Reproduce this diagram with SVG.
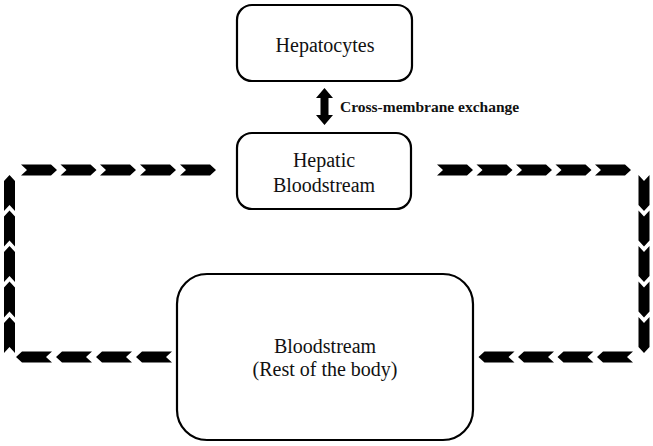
<svg xmlns="http://www.w3.org/2000/svg" xmlns:xlink="http://www.w3.org/1999/xlink" width="653" height="446" viewBox="0 0 653 446">
<style>
.box{fill:#fff;stroke:#000;stroke-width:2.2}
.t{font-family:"Liberation Serif","Times New Roman",serif;font-size:20px;fill:#111;text-anchor:middle}
.lbl{font-family:"Liberation Serif","Times New Roman",serif;font-size:15.5px;font-weight:bold;fill:#111}
.chev{fill:#000}
</style>
<defs>
<path id="cr" class="chev" d="M0,-5.5 L30,-5.5 L36,0 L30,5.5 L0,5.5 L6,0 Z"/>
</defs>
<rect width="653" height="446" fill="#fff"/>
<g id="hepatocytes">
<rect class="box" x="237" y="5" width="175" height="76" rx="15"/>
<text class="t" x="325" y="52">Hepatocytes</text>
</g>
<g id="hepatic-bloodstream">
<rect class="box" x="237" y="133" width="174" height="76" rx="15"/>
<text class="t" x="324" y="167">Hepatic</text>
<text class="t" x="324" y="192">Bloodstream</text>
</g>
<g id="bloodstream">
<rect class="box" x="177" y="274" width="296" height="166" rx="30"/>
<text class="t" x="325" y="353">Bloodstream</text>
<text class="t" x="325" y="376">(Rest of the body)</text>
</g>
<g id="connectors">
<g id="exchange">
<path d="M324.5,88 L333,98 L328.5,98 L328.5,115 L333,115 L324.5,125 L316,115 L320.5,115 L320.5,98 L316,98 Z" fill="#000"/>
<text class="lbl" x="340" y="112">Cross-membrane exchange</text>
</g>
<g id="top-left">
<use xlink:href="#cr" transform="translate(21,170)"/>
<use xlink:href="#cr" transform="translate(60.5,170)"/>
<use xlink:href="#cr" transform="translate(100,170)"/>
<use xlink:href="#cr" transform="translate(140,170)"/>
<use xlink:href="#cr" transform="translate(180,170)"/>
</g>
<g id="top-right">
<use xlink:href="#cr" transform="translate(437,170)"/>
<use xlink:href="#cr" transform="translate(476.5,170)"/>
<use xlink:href="#cr" transform="translate(516,170)"/>
<use xlink:href="#cr" transform="translate(555.5,170)"/>
<use xlink:href="#cr" transform="translate(595,170)"/>
</g>
<g id="left-up">
<use xlink:href="#cr" transform="translate(9.5,211) rotate(-90)"/>
<use xlink:href="#cr" transform="translate(9.5,246.5) rotate(-90)"/>
<use xlink:href="#cr" transform="translate(9.5,282) rotate(-90)"/>
<use xlink:href="#cr" transform="translate(9.5,317.5) rotate(-90)"/>
<use xlink:href="#cr" transform="translate(9.5,353) rotate(-90)"/>
</g>
<g id="right-down">
<use xlink:href="#cr" transform="translate(644,175) rotate(90)"/>
<use xlink:href="#cr" transform="translate(644,210.5) rotate(90)"/>
<use xlink:href="#cr" transform="translate(644,246) rotate(90)"/>
<use xlink:href="#cr" transform="translate(644,281.5) rotate(90)"/>
<use xlink:href="#cr" transform="translate(644,317) rotate(90)"/>
</g>
<g id="bottom-right">
<use xlink:href="#cr" transform="translate(633,357) rotate(180)"/>
<use xlink:href="#cr" transform="translate(593.5,357) rotate(180)"/>
<use xlink:href="#cr" transform="translate(554,357) rotate(180)"/>
<use xlink:href="#cr" transform="translate(514.5,357) rotate(180)"/>
</g>
<g id="bottom-left">
<use xlink:href="#cr" transform="translate(172,357) rotate(180)"/>
<use xlink:href="#cr" transform="translate(132,357) rotate(180)"/>
<use xlink:href="#cr" transform="translate(92,357) rotate(180)"/>
<use xlink:href="#cr" transform="translate(52,357) rotate(180)"/>
</g>
</g>
</svg>
